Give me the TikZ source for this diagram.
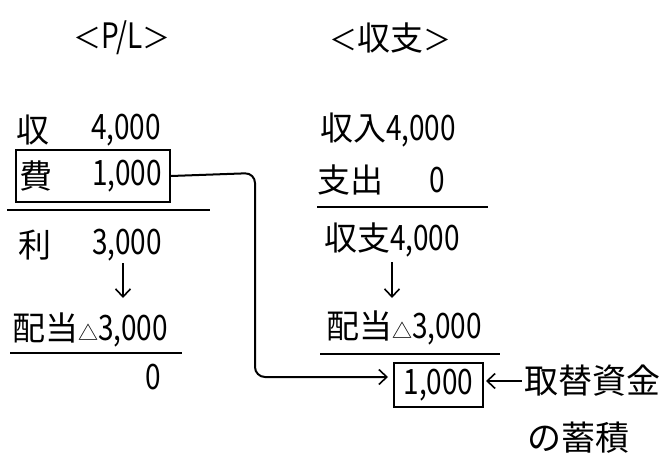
\documentclass[tikz,border=0pt]{standalone}
\usepackage{fontspec}
\usepackage{graphicx}
\setmainfont{Noto Sans CJK JP}
\usetikzlibrary{arrows.meta}
\tikzset{
  txt/.style={inner sep=0pt, font=\fontsize{28}{30}\selectfont},
  bigtxt/.style={inner sep=0pt, font=\fontsize{34}{36}\selectfont},
  rule/.style={line width=2pt},
  boxed/.style={draw, line width=2pt, inner sep=0pt},
  conn/.style={line width=2pt, -{Straight Barb[length=8pt,width=15pt,line width=1.6pt]}},
}
\newcommand{\tri}{{\fontsize{20}{22}\selectfont △}}
\newcommand{\J}[1]{{\fontsize{33}{36}\selectfont #1}}
\newcommand{\N}[1]{\scalebox{1}[1.25]{#1}}
\begin{document}
\begin{tikzpicture}[x=1pt,y=-1pt]
\useasboundingbox (0,0) rectangle (661,468);
% titles
\node[txt] (tpl) at (122,38) {＜\N{P/L}＞};
\node[txt] (tcf) at (390,38) {＜\J{収支}＞};
% left column
\node[txt] (rev) at (33,130) {\J{収}};
\node[txt] (revv) at (126,130) {\N{4,000}};
\node[boxed, minimum width=154pt, minimum height=52pt] (feebox) at (93,176) {};
\node[txt] (fee) at (36,176) {\J{費}};
\node[txt] (feev) at (127,176) {\N{1,000}};
\draw[rule] (7,210) -- (210,210);
\node[txt] (prof) at (35,245) {\J{利}};
\node[txt] (profv) at (127,245) {\N{3,000}};
\node[txt] (divl) at (90,330) {\J{配当}\tri\N{3,000}};
\coordinate (la1) at (123,263);
\coordinate (la2) at (123,298);
\draw[conn] (la1) -- (la2);
\draw[rule] (10,353) -- (182,353);
\node[txt] (zero) at (153,377) {\N{0}};
% right column
\node[txt] (inc) at (388,130) {\J{収入}\N{4,000}};
\node[txt] (out) at (350,180) {\J{支出}};
\node[txt] (outv) at (437,180) {\N{0}};
\draw[rule] (317,207) -- (488,207);
\node[txt] (bal) at (392,240) {\J{収支}\N{4,000}};
\coordinate (ra1) at (392,262);
\coordinate (ra2) at (392,298);
\draw[conn] (ra1) -- (ra2);
\node[txt] (divr) at (404,328) {\J{配当}\tri\N{3,000}};
\draw[rule] (320,354) -- (500,354);
\node[boxed, minimum width=89pt, minimum height=44pt, font=\fontsize{28}{30}\selectfont] (cash) at (438.5,385) {\N{1,000}};
\node[bigtxt] (repl) at (592,381) {取替資金};
\node[bigtxt] (accum) at (578,438) {の蓄積};
% connectors
\draw[conn, rounded corners=10pt, shorten >=5pt] (feebox.east) -- (255,173) |- ([yshift=8pt]cash.west);
\draw[conn, shorten <=2pt, shorten >=2pt] (repl.west) -- (repl.west -| cash.east);
\end{tikzpicture}
\end{document}
